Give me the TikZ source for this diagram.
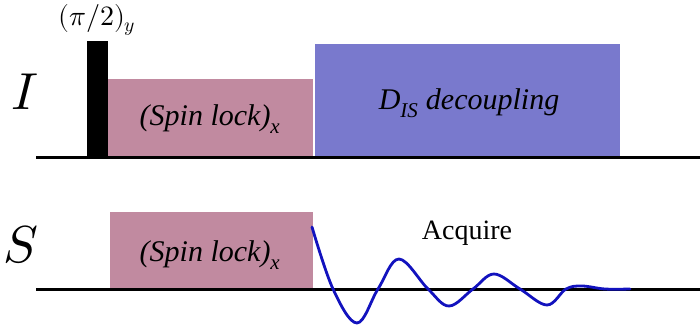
\documentclass[tikz,border=0pt]{standalone}
\usepackage{unicode-math}
\setmainfont{Liberation Serif}
\setmathfont{Latin Modern Math}
\begin{document}
\begin{tikzpicture}[x=1pt,y=-1pt,
  block/.style={draw=none,inner sep=0pt,anchor=north west},
  axis/.style={line width=3pt,black},
  lbl/.style={font=\fontsize{30}{30}\selectfont\itshape},
  chan/.style={font=\fontsize{52}{52}\selectfont},
  fid/.style={line width=2.8pt,color=fidblue,line join=round,line cap=round}]
\definecolor{pinkbox}{RGB}{193,138,160}
\definecolor{bluebox}{RGB}{121,121,205}
\definecolor{fidblue}{RGB}{18,18,190}
\useasboundingbox (0,0) rectangle (700,327);
% boxes
\node[block,fill=black,minimum width=21pt,minimum height=116pt] (pulse) at (87,41) {};
\node[block,fill=pinkbox,minimum width=205pt,minimum height=78pt] (slI) at (108,79) {};
\node[block,fill=bluebox,minimum width=305pt,minimum height=113pt] (dec) at (315,44) {};
\node[block,fill=pinkbox,minimum width=203pt,minimum height=77pt] (slS) at (110,212) {};
% axes
\coordinate (Ia) at (36,157);
\coordinate (Ib) at (700,157);
\coordinate (Sa) at (36,289);
\coordinate (Sb) at (700,289);
\draw[axis] (Ia) -- (Ib);
\draw[axis] (Sa) -- (Sb);
% labels
\node[chan] (Ilab) at (25,92) {$I$};
\node[chan] (Slab) at (21,245) {$S$};
\node[font=\fontsize{28}{28}\selectfont] (pl) at (97,20) {$(\pi/2)_y$};
\node[lbl] (tI) at (210,119) {(Spin lock)\textsubscript{x}};
\node[lbl] (tS) at (210,255) {(Spin lock)\textsubscript{x}};
\node[lbl] (tD) at (469,103) {D\textsubscript{IS} decoupling};
\node[font=\fontsize{28}{28}\selectfont] (acq) at (467,233) {Acquire};
% FID
\draw[fid] plot[smooth,tension=0.6] coordinates {(312,227) (333,289) (357,323) (378,289) (399,259) (428,289) (449,306) (473,289) (494,274) (520,289) (547,305) (566,289) (582,286) (605,289) (630,289)};
\end{tikzpicture}
\end{document}
